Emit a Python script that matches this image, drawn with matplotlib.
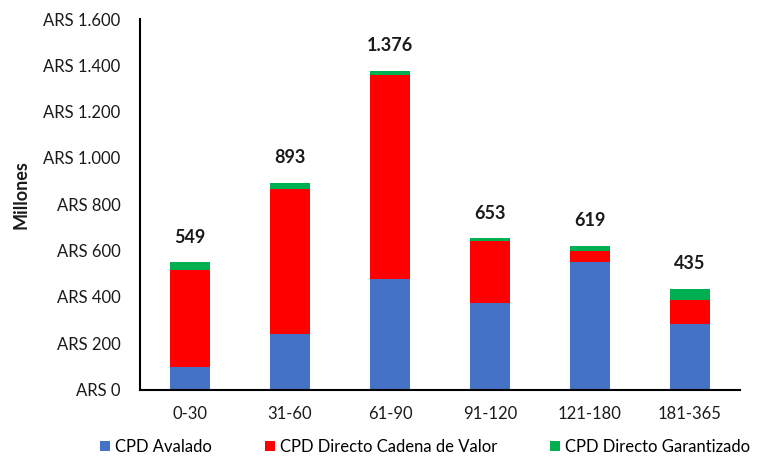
import matplotlib
matplotlib.use("Agg")
import matplotlib.pyplot as plt
import numpy as np

categories = ["0-30", "31-60", "61-90", "91-120", "121-180", "181-365"]
avalado = [99, 238, 477, 372, 549, 284]
cadena = [418, 626, 881, 269, 50, 104]
garantizado = [32, 29, 18, 12, 20, 47]
totals = ["549", "893", "1.376", "653", "619", "435"]
yticks = [0, 200, 400, 600, 800, 1000, 1200, 1400, 1600]
ytick_labels = ["ARS 0", "ARS 200", "ARS 400", "ARS 600", "ARS 800",
                "ARS 1.000", "ARS 1.200", "ARS 1.400", "ARS 1.600"]

plt.rcParams['font.family'] = ['Lato', 'DejaVu Sans']

fig = plt.figure(figsize=(7.61, 4.57), dpi=100)
ax = fig.add_axes([140/761, 1-389.5/457, 600/761, 370.5/457])

x = np.arange(len(categories))
w = 0.4
c_blue, c_red, c_green = "#4472C4", "#FF0000", "#00B050"
a = np.array(avalado); r = np.array(cadena); g = np.array(garantizado)
ax.bar(x, a, w, color=c_blue, label="CPD Avalado")
ax.bar(x, r, w, bottom=a, color=c_red, label="CPD Directo Cadena de Valor")
ax.bar(x, g, w, bottom=a + r, color=c_green, label="CPD Directo Garantizado")

for xi, top, lab in zip(x, a + r + g, totals):
    ax.annotate(lab, (xi, top), xytext=(0, 12), textcoords="offset points",
                ha="center", va="bottom", fontsize=13, fontweight="bold", color="#1a1a1a")

ax.set_xlim(-0.5, len(categories) - 0.5)
ax.set_ylim(0, 1600)
ax.set_yticks(yticks)
ax.set_yticklabels(ytick_labels)
ax.set_xticks(x)
ax.set_xticklabels(categories)
ax.tick_params(axis="both", length=0, labelsize=12, colors="#1a1a1a")
ax.tick_params(axis="y", pad=14)
ax.tick_params(axis="x", pad=12)
for s in ["top", "right"]:
    ax.spines[s].set_visible(False)
for s in ["left", "bottom"]:
    ax.spines[s].set_color("black")
    ax.spines[s].set_linewidth(1.5)

fig.text(21/761, 1-195/457, "Millones", rotation=90, ha="center", va="center",
         fontsize=13, fontweight="bold", color="#1a1a1a")

fig.legend(loc="center", bbox_to_anchor=(425/761, 1-447/457), ncol=3, frameon=False,
           fontsize=12, handlelength=0.6, handleheight=0.6, handletextpad=0.3,
           columnspacing=3.2)

fig.savefig("out.png", dpi=100)
